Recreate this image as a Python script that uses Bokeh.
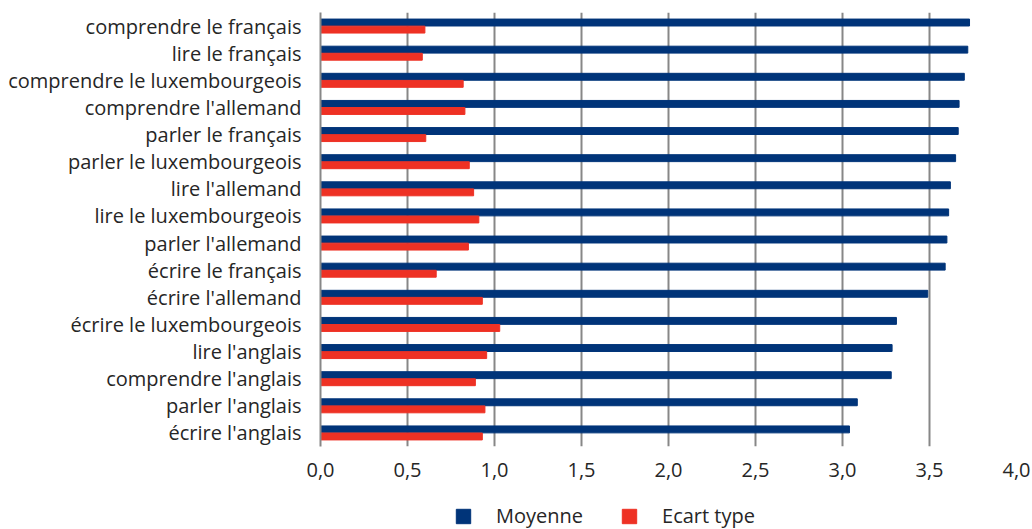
from bokeh.plotting import figure
from bokeh.layouts import column
from bokeh.models import ColumnDataSource, FactorRange, FixedTicker, Legend, LegendItem
from bokeh.transform import dodge
from bokeh.embed import file_html
from bokeh.resources import INLINE

# Language skills, top to bottom
skills = [
    "comprendre le français",
    "lire le français",
    "comprendre le luxembourgeois",
    "comprendre l'allemand",
    "parler le français",
    "parler le luxembourgeois",
    "lire l'allemand",
    "lire le luxembourgeois",
    "parler l'allemand",
    "écrire le français",
    "écrire l'allemand",
    "écrire le luxembourgeois",
    "lire l'anglais",
    "comprendre l'anglais",
    "parler l'anglais",
    "écrire l'anglais",
]
moyenne = [3.73, 3.72, 3.70, 3.67, 3.665, 3.65, 3.62, 3.61, 3.60, 3.59,
           3.49, 3.31, 3.285, 3.28, 3.085, 3.04]
ecart_type = [0.60, 0.585, 0.82, 0.83, 0.605, 0.855, 0.88, 0.91, 0.85, 0.665,
              0.93, 1.03, 0.955, 0.89, 0.945, 0.93]
x_ticks = [0.0, 0.5, 1.0, 1.5, 2.0, 2.5, 3.0, 3.5, 4.0]
series_names = ["Moyenne", "Ecart type"]

BLUE = "#003479"
RED = "#EE3124"
TEXT = "#262626"
FONT = "Open Sans"
FONT_SIZE = "20px"

source = ColumnDataSource(dict(skill=skills, moyenne=moyenne, ecart=ecart_type))

# --- main bar chart -------------------------------------------------------
p = figure(
    width=1032, height=490,
    y_range=FactorRange(factors=list(reversed(skills))),
    x_range=(0, 4),
    output_backend="svg", toolbar_location=None,
    min_border_left=320, min_border_right=16,
    min_border_top=12, min_border_bottom=44,
)

p.hbar(y=dodge("skill", 0.13, range=p.y_range), right="moyenne", height=0.255,
       source=source, color=BLUE)
p.hbar(y=dodge("skill", -0.13, range=p.y_range), right="ecart", height=0.255,
       source=source, color=RED)

p.outline_line_color = None
p.ygrid.grid_line_color = None
p.xgrid.grid_line_color = "#878787"
p.xgrid.grid_line_width = 2

p.xaxis.ticker = FixedTicker(ticks=x_ticks)
p.xaxis.major_label_overrides = {t: f"{t:.1f}".replace(".", ",") for t in x_ticks}
p.xaxis.axis_line_color = None
p.xaxis.major_tick_line_color = None
p.xaxis.minor_tick_line_color = None
p.xaxis.major_label_standoff = 10
p.xaxis.major_label_text_font = FONT
p.xaxis.major_label_text_font_size = FONT_SIZE
p.xaxis.major_label_text_color = TEXT

p.yaxis.axis_line_color = "#878787"
p.yaxis.axis_line_width = 2
p.yaxis.major_tick_line_color = None
p.yaxis.minor_tick_line_color = None
p.yaxis.major_label_standoff = 13
p.yaxis.major_label_text_font = FONT
p.yaxis.major_label_text_font_size = FONT_SIZE
p.yaxis.major_label_text_color = TEXT

# --- legend strip underneath (its frame lines up with the chart's frame) ---
leg = figure(
    width=1032, height=39, x_range=(0, 1), y_range=(0, 1),
    output_backend="svg", toolbar_location=None,
    min_border=0, outline_line_color=None,
)
leg.axis.visible = False
leg.grid.visible = False
# swatch renderers sit outside the visible range; only their legend glyphs show
swatch_moy = leg.hbar(y=[-10], right=[-10], height=0.5, color=BLUE)
swatch_ect = leg.hbar(y=[-10], right=[-10], height=0.5, color=RED)

legend = Legend(
    items=[LegendItem(label=series_names[0], renderers=[swatch_moy]),
           LegendItem(label=series_names[1], renderers=[swatch_ect])],
    orientation="horizontal",
    location=(134, 0),
    glyph_width=18, glyph_height=18,
    label_standoff=24, spacing=37, padding=2, margin=0,
    label_text_font=FONT, label_text_font_size=FONT_SIZE, label_text_color=TEXT,
    border_line_color=None, background_fill_alpha=0,
)
leg.add_layout(legend, "center")

layout = column(p, leg, spacing=0)
open("out.html", "w").write(file_html(layout, INLINE))
